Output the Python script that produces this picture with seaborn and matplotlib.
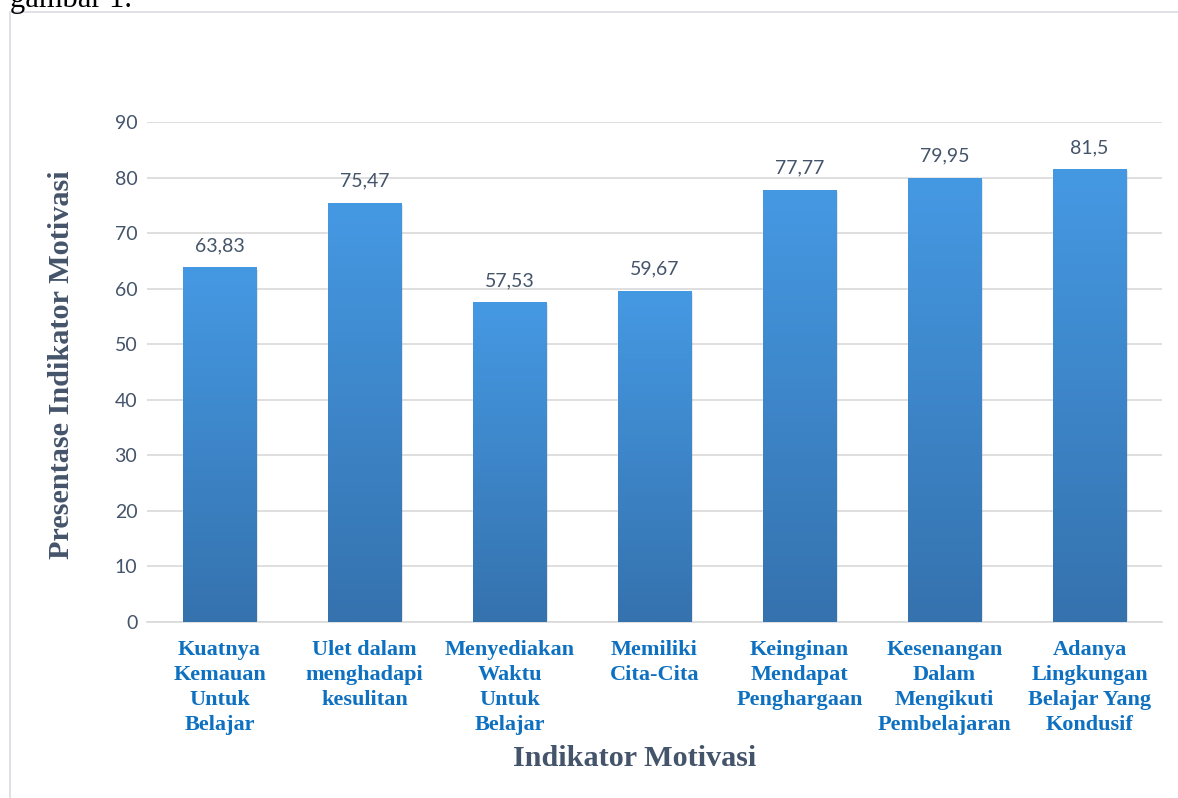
import matplotlib
matplotlib.use("Agg")
import matplotlib.pyplot as plt
import matplotlib.colors as mcolors
import matplotlib.patches as mpatches
import seaborn as sns
import numpy as np
import pandas as pd

# data
categories = [
    "Kuatnya\nKemauan\nUntuk\nBelajar",
    "Ulet dalam\nmenghadapi\nkesulitan",
    "Menyediakan\nWaktu\nUntuk\nBelajar",
    "Memiliki\nCita-Cita",
    "Keinginan\nMendapat\nPenghargaan",
    "Kesenangan\nDalam\nMengikuti\nPembelajaran",
    "Adanya\nLingkungan\nBelajar Yang\nKondusif",
]
values = [63.83, 75.47, 57.53, 59.67, 77.77, 79.95, 81.5]
value_labels = ["63,83", "75,47", "57,53", "59,67", "77,77", "79,95", "81,5"]
yticks = [0, 10, 20, 30, 40, 50, 60, 70, 80, 90]

df = pd.DataFrame({"indikator": categories, "nilai": values})

sns.set_theme(style="white")
plt.rcParams["font.family"] = ["Lato", "DejaVu Sans"]

text_dark = "#44546A"
label_blue = "#0E70C0"
grid_col = "#D9D9D9"
serif = ["Liberation Serif", "DejaVu Serif"]

fig = plt.figure(figsize=(11.78, 7.98), dpi=100)
ax = fig.add_axes([147 / 1178, 1 - 622 / 798, (1162 - 147) / 1178, 500 / 798])

sns.barplot(data=df, x="indikator", y="nilai", color="#3F8BD3", width=0.51,
            ax=ax, zorder=3)

# gradient fill + soft shadow on each bar, like the Excel styling
cmap = mcolors.LinearSegmentedColormap.from_list("bar", ["#3572AE", "#4599E3"])
grad = np.linspace(0, 1, 256).reshape(-1, 1)
for p in ax.patches:
    x0, y0 = p.get_x(), p.get_y()
    w, h = p.get_width(), p.get_height()
    sh = mpatches.Rectangle((x0 + 0.012, y0 - 0.4), w, h, facecolor="#000000",
                            alpha=0.12, edgecolor="none", zorder=2)
    ax.add_patch(sh)
    im = ax.imshow(grad, extent=[x0, x0 + w, y0, y0 + h], origin="lower",
                   cmap=cmap, aspect="auto", zorder=4)
    im.set_clip_path(p)

for i, (v, lab) in enumerate(zip(values, value_labels)):
    ax.text(i, v + 2.4, lab, ha="center", va="bottom", fontsize=14,
            color=text_dark, family=["Lato", "DejaVu Sans"], zorder=5)

ax.set_xlim(-0.5, len(categories) - 0.5)
ax.set_ylim(0, 90)
ax.set_yticks(yticks)
ax.set_yticklabels([str(t) for t in yticks], fontsize=14, color=text_dark)
ax.yaxis.grid(True, color=grid_col, linewidth=1.2, zorder=0)
ax.set_axisbelow(True)
for s in ["top", "right", "left"]:
    ax.spines[s].set_visible(False)
ax.spines["bottom"].set_color(grid_col)
ax.spines["bottom"].set_linewidth(1.2)
ax.tick_params(axis="both", length=0)
ax.tick_params(axis="y", pad=7)
ax.tick_params(axis="x", pad=13)

ax.set_xticks(range(len(categories)))
ax.set_xticklabels(categories, fontsize=16, color=label_blue,
                   fontweight="bold", family=serif, linespacing=1.34)

ax.set_xlabel("Indikator Motivasi", fontsize=21.7, fontweight="bold",
              color=text_dark, family=serif, labelpad=0)
ax.xaxis.set_label_coords(0.48, -0.245)
ax.set_ylabel("Presentase Indikator Motivasi", fontsize=21.8, fontweight="bold",
              color=text_dark, family=serif)
ax.yaxis.set_label_coords(-0.071, 0.514)

# chart frame and the cut-off caption line above it
frame = mpatches.Rectangle((10 / 1178, -0.1), 1.2, 1 - 12 / 798 + 0.1,
                           transform=fig.transFigure, fill=False,
                           edgecolor="#D9DCE3", linewidth=1.2)
fig.patches.append(frame)
fig.text(10 / 1178, 1 - 7 / 798, "gambar 1.", fontsize=22, family=serif,
         color="black", ha="left", va="baseline")

fig.savefig("out.png", dpi=100, facecolor="white")
